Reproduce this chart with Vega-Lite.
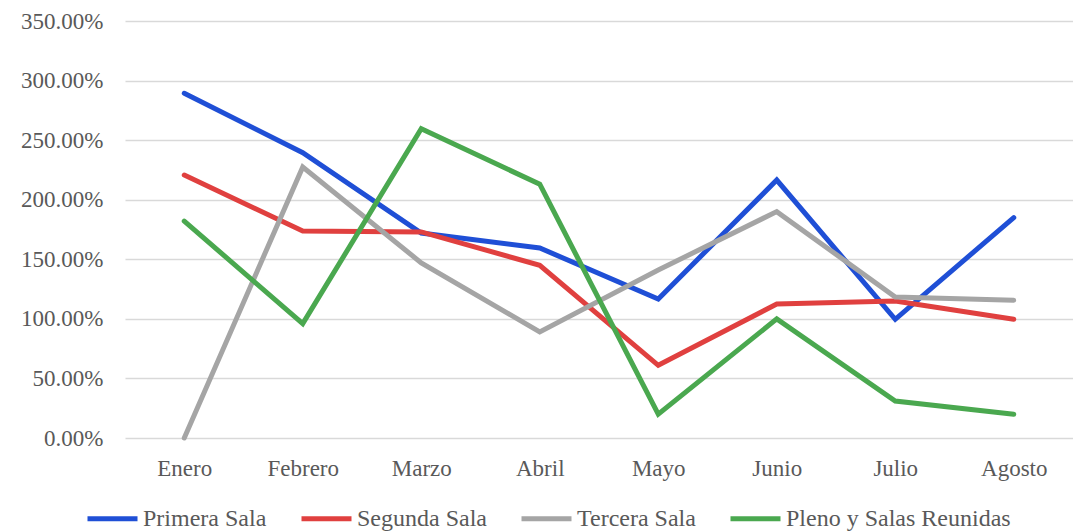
{
  "$schema": "https://vega.github.io/schema/vega-lite/v6.json",
  "width": 948,
  "height": 417,
  "autosize": {"type": "none"},
  "padding": {"left": 125, "top": 21, "right": 0, "bottom": 94},
  "background": "white",
  "config": {
    "view": {"stroke": null},
    "font": "Liberation Serif"
  },
  "data": {
    "values": [
      {"mes": "Enero", "serie": "Primera Sala", "valor": 2.893},
      {"mes": "Febrero", "serie": "Primera Sala", "valor": 2.395},
      {"mes": "Marzo", "serie": "Primera Sala", "valor": 1.72},
      {"mes": "Abril", "serie": "Primera Sala", "valor": 1.595},
      {"mes": "Mayo", "serie": "Primera Sala", "valor": 1.167},
      {"mes": "Junio", "serie": "Primera Sala", "valor": 2.165},
      {"mes": "Julio", "serie": "Primera Sala", "valor": 0.996},
      {"mes": "Agosto", "serie": "Primera Sala", "valor": 1.85},
      {"mes": "Enero", "serie": "Segunda Sala", "valor": 2.207},
      {"mes": "Febrero", "serie": "Segunda Sala", "valor": 1.737},
      {"mes": "Marzo", "serie": "Segunda Sala", "valor": 1.73},
      {"mes": "Abril", "serie": "Segunda Sala", "valor": 1.45},
      {"mes": "Mayo", "serie": "Segunda Sala", "valor": 0.61},
      {"mes": "Junio", "serie": "Segunda Sala", "valor": 1.125},
      {"mes": "Julio", "serie": "Segunda Sala", "valor": 1.15},
      {"mes": "Agosto", "serie": "Segunda Sala", "valor": 0.996},
      {"mes": "Enero", "serie": "Tercera Sala", "valor": 0.0},
      {"mes": "Febrero", "serie": "Tercera Sala", "valor": 2.275},
      {"mes": "Marzo", "serie": "Tercera Sala", "valor": 1.47},
      {"mes": "Abril", "serie": "Tercera Sala", "valor": 0.89},
      {"mes": "Mayo", "serie": "Tercera Sala", "valor": 1.41},
      {"mes": "Junio", "serie": "Tercera Sala", "valor": 1.9},
      {"mes": "Julio", "serie": "Tercera Sala", "valor": 1.183},
      {"mes": "Agosto", "serie": "Tercera Sala", "valor": 1.156},
      {"mes": "Enero", "serie": "Pleno y Salas Reunidas", "valor": 1.82},
      {"mes": "Febrero", "serie": "Pleno y Salas Reunidas", "valor": 0.96},
      {"mes": "Marzo", "serie": "Pleno y Salas Reunidas", "valor": 2.595},
      {"mes": "Abril", "serie": "Pleno y Salas Reunidas", "valor": 2.13},
      {"mes": "Mayo", "serie": "Pleno y Salas Reunidas", "valor": 0.2},
      {"mes": "Junio", "serie": "Pleno y Salas Reunidas", "valor": 1.0},
      {"mes": "Julio", "serie": "Pleno y Salas Reunidas", "valor": 0.31},
      {"mes": "Agosto", "serie": "Pleno y Salas Reunidas", "valor": 0.199}
    ]
  },
  "mark": {"type": "line", "strokeWidth": 5, "strokeCap": "round", "strokeJoin": "miter"},
  "encoding": {
    "x": {
      "field": "mes",
      "type": "ordinal",
      "sort": ["Enero", "Febrero", "Marzo", "Abril", "Mayo", "Junio", "Julio", "Agosto"],
      "scale": {"type": "point", "padding": 0.5},
      "axis": {
        "title": null,
        "domain": false,
        "ticks": false,
        "grid": false,
        "labelAngle": 0,
        "labelFontSize": 23,
        "labelColor": "#595959",
        "labelPadding": 19,
        "labelFont": "Liberation Serif"
      }
    },
    "y": {
      "field": "valor",
      "type": "quantitative",
      "scale": {"domain": [0, 3.5], "nice": false, "zero": true},
      "axis": {
        "title": null,
        "format": ".2%",
        "values": [0, 0.5, 1, 1.5, 2, 2.5, 3, 3.5],
        "domain": false,
        "ticks": false,
        "grid": true,
        "gridColor": "#d9d9d9",
        "gridWidth": 1.5,
        "labelFontSize": 23,
        "labelColor": "#595959",
        "labelPadding": 22,
        "labelFont": "Liberation Serif"
      }
    },
    "color": {
      "field": "serie",
      "type": "nominal",
      "sort": ["Primera Sala", "Segunda Sala", "Tercera Sala", "Pleno y Salas Reunidas"],
      "scale": {
        "domain": ["Primera Sala", "Segunda Sala", "Tercera Sala", "Pleno y Salas Reunidas"],
        "range": ["#1f4fd6", "#e0403f", "#a5a5a5", "#4aa84f"]
      },
      "legend": {
        "title": null,
        "orient": "none",
        "direction": "horizontal",
        "legendX": -40,
        "legendY": 470,
        "symbolType": "stroke",
        "symbolSize": 2500,
        "symbolStrokeWidth": 5,
        "labelFontSize": 24,
        "labelColor": "#595959",
        "labelFont": "Liberation Serif",
        "labelOffset": 3,
        "columnPadding": 24,
        "labelLimit": 400
      }
    }
  }
}
